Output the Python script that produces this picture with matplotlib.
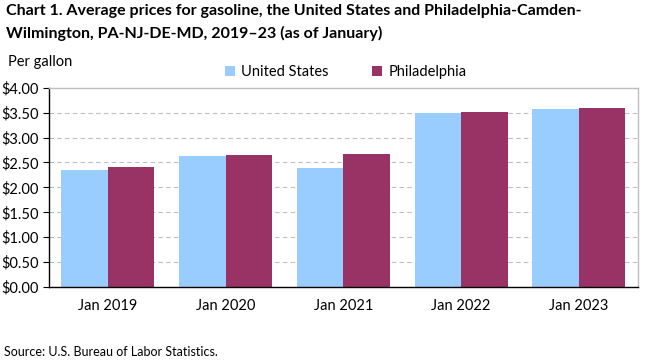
import matplotlib.pyplot as plt
import numpy as np
from matplotlib.ticker import MultipleLocator, FuncFormatter

plt.rcParams['font.family'] = ['Lato', 'DejaVu Sans']

years = ['Jan 2019', 'Jan 2020', 'Jan 2021', 'Jan 2022', 'Jan 2023']
us_prices = [2.35, 2.63, 2.39, 3.49, 3.57]
phila_prices = [2.41, 2.65, 2.67, 3.52, 3.60]

fig = plt.figure(figsize=(6.61, 3.61), dpi=100)
ax = fig.add_axes([0.074, 0.205, 0.891, 0.552])

x = np.arange(len(years))
w = 0.395
ax.bar(x - w / 2, us_prices, w, color='#99ccff', label='United States', zorder=2)
ax.bar(x + w / 2, phila_prices, w, color='#993366', label='Philadelphia', zorder=2)

ax.set_xlim(-0.5, len(years) - 0.5)
ax.set_ylim(0, 4)
ax.yaxis.set_major_locator(MultipleLocator(0.5))
ax.yaxis.set_major_formatter(FuncFormatter(lambda v, p: '${:.2f}'.format(v)))
ax.set_xticks(x)
ax.set_xticklabels(years)
ax.tick_params(axis='x', length=0, pad=9, labelsize=10.5)
ax.tick_params(axis='y', length=4, width=0.8, pad=3, labelsize=10.5)
ax.grid(axis='y', color='#bfbfbf', linestyle=(0, (4, 3)), linewidth=0.8, zorder=0)

for s in ['left', 'bottom']:
    ax.spines[s].set_color('black')
    ax.spines[s].set_linewidth(1)
for s in ['top', 'right']:
    ax.spines[s].set_color('#bfbfbf')
    ax.spines[s].set_linewidth(1)

fig.text(0.009, 0.99, 'Chart 1. Average prices for gasoline, the United States and Philadelphia-Camden-\n'
         'Wilmington, PA-NJ-DE-MD, 2019\u201323 (as of January)',
         fontsize=11.5, fontweight='bold', va='top', ha='left', linespacing=1.65)
fig.text(0.012, 0.828, 'Per gallon', fontsize=10.5, va='center', ha='left')
fig.text(0.006, 0.026, 'Source: U.S. Bureau of Labor Statistics.', fontsize=9, va='center', ha='left')

fig.legend(loc='center', bbox_to_anchor=(0.523, 0.8), ncol=2, frameon=False,
           fontsize=10.5, handlelength=0.7, handleheight=0.7, columnspacing=3.0,
           handletextpad=0.4)

fig.savefig('out.png', dpi=100)
